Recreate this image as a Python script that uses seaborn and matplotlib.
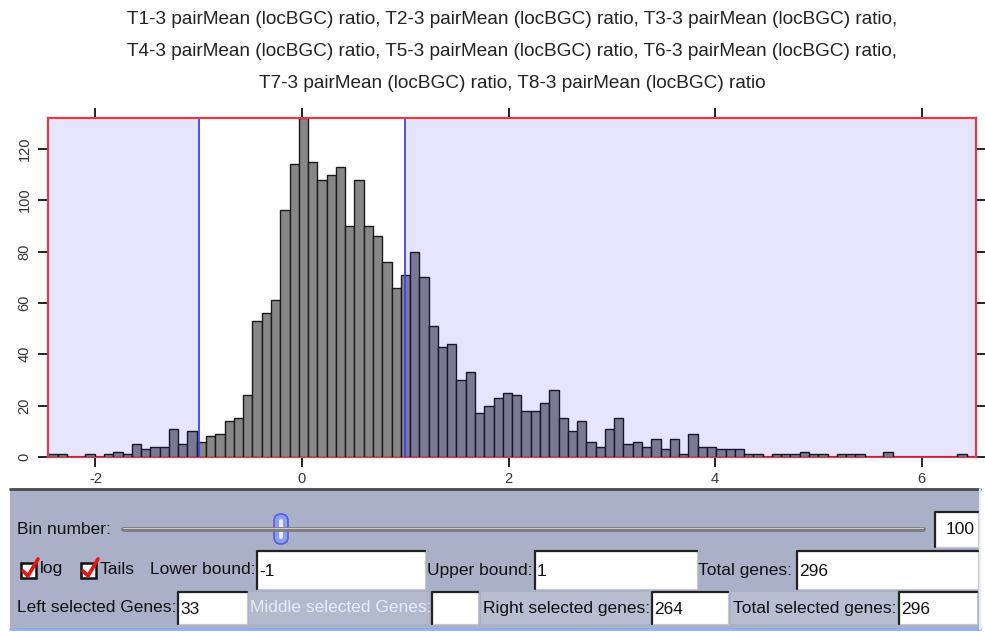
import numpy as np
import pandas as pd
import matplotlib
matplotlib.use("Agg")
import matplotlib.pyplot as plt
import matplotlib.patches as mpatches
import seaborn as sns

# ── data ──────────────────────────────────────────────────────────────────────
COUNTS = [
    1, 1, 0, 0, 1, 0, 1, 2, 1, 5,
    3, 4, 4, 11, 5, 10, 6, 8, 9, 14,
    15, 24, 53, 56, 61, 96, 114, 132, 115, 108,
    110, 113, 90, 108, 90, 86, 76, 66, 71, 80,
    70, 51, 43, 44, 30, 33, 17, 20, 23, 25,
    24, 18, 18, 21, 26, 15, 10, 14, 6, 4,
    11, 15, 5, 6, 4, 7, 3, 7, 1, 9,
    4, 4, 3, 3, 3, 1, 1, 0, 1, 1,
    1, 2, 1, 1, 0, 1, 1, 1, 0, 0,
    2, 0, 0, 0, 0, 0, 0, 0, 1, 0,
]
X_MIN, X_MAX = -2.456, 6.525
N_BINS = 100
LOWER_BOUND = -1
UPPER_BOUND = 1
X_TICKS = [-2, 0, 2, 4, 6]
Y_TICKS = [0, 20, 40, 60, 80, 100, 120]
TITLE_LINES = [
    "T1-3 pairMean (locBGC) ratio, T2-3 pairMean (locBGC) ratio, T3-3 pairMean (locBGC) ratio,",
    "T4-3 pairMean (locBGC) ratio, T5-3 pairMean (locBGC) ratio, T6-3 pairMean (locBGC) ratio,",
    "T7-3 pairMean (locBGC) ratio, T8-3 pairMean (locBGC) ratio",
]
BIN_NUMBER = "100"
LOWER_TEXT = "-1"
UPPER_TEXT = "1"
TOTAL_GENES = "296"
LEFT_SELECTED = "33"
MIDDLE_SELECTED = ""
RIGHT_SELECTED = "264"
TOTAL_SELECTED = "296"

# ── style ─────────────────────────────────────────────────────────────────────
W, H = 985, 632
BAR_GRAY = "#878787"
FRAME_RED = "#e33a44"
LINE_BLUE = "#4040ff"
PANEL_BG = "#a9b0c8"

sns.set_theme(style="white")
plt.rcParams["font.family"] = ["Liberation Sans", "DejaVu Sans"]
plt.rcParams["axes.unicode_minus"] = False

edges = np.linspace(X_MIN, X_MAX, N_BINS + 1)
df = pd.DataFrame({"ratio": (edges[:-1] + edges[1:]) / 2, "count": COUNTS})

fig = plt.figure(figsize=(W / 100, H / 100), dpi=100)
fig.patch.set_facecolor("white")

# control panel lives in pixel coordinates
pax = fig.add_axes([0, 0, 1, 1])
pax.set_xlim(0, W)
pax.set_ylim(H, 0)
pax.axis("off")

ax = fig.add_axes([48.3 / W, 1 - 457 / H, (976 - 48.3) / W, (457 - 118) / H])
ax.set_facecolor("white")

sns.histplot(data=df, x="ratio", weights="count", bins=N_BINS,
             binrange=(X_MIN, X_MAX), color=BAR_GRAY, edgecolor="#1a1a1a",
             linewidth=1.0, alpha=1, ax=ax, zorder=3)

# tails shaded
ax.axvspan(X_MIN, LOWER_BOUND, color="#0000ff", alpha=0.1, lw=0, zorder=4)
ax.axvspan(UPPER_BOUND, X_MAX, color="#0000ff", alpha=0.1, lw=0, zorder=4)
ax.axvline(LOWER_BOUND, color=LINE_BLUE, lw=1.3, zorder=5)
ax.axvline(UPPER_BOUND, color=LINE_BLUE, lw=1.3, zorder=5)

ax.set_xlim(X_MIN, X_MAX)
ax.set_ylim(0, max(COUNTS))
ax.set_xticks(X_TICKS)
ax.set_yticks(Y_TICKS)
ax.set_xlabel("")
ax.set_ylabel("")
ax.tick_params(direction="out", length=7, width=1.3, color="#111111",
               top=True, right=True, bottom=True, left=True,
               labeltop=False, labelright=False, labelsize=10.5,
               labelcolor="#333333")
ax.tick_params(axis="x", pad=4)
ax.tick_params(axis="y", pad=5)
plt.setp(ax.get_yticklabels(), rotation=90, va="center")
for side, sp in ax.spines.items():
    sp.set_color(FRAME_RED)
    sp.set_linewidth(1.6)
    if side != "bottom":
        sp.set_zorder(6)

# title centred over the plot area
for i, line in enumerate(TITLE_LINES):
    fig.text(512 / W, 1 - (20 + 31.5 * i) / H, line, ha="center", va="center",
             fontsize=13.7, color="#222222")

# ── control panel ─────────────────────────────────────────────────────────────
P_TOP, P_BOT = 489, 629
pax.add_patch(mpatches.Rectangle((10, P_TOP), 970, P_BOT - P_TOP,
                                 fc=PANEL_BG, ec="none"))
pax.plot([10, 980], [P_TOP, P_TOP], color="#4a4a4a", lw=2)
pax.plot([10, 980], [P_BOT, P_BOT], color="#8fb0f0", lw=2)
pax.plot([980, 980], [P_TOP, P_BOT], color="#e8ecf8", lw=1.5)

FS = 12.5


def field(x0, x1, y0, y1, text):
    pax.add_patch(mpatches.Rectangle((x0, y0), x1 - x0, y1 - y0,
                                     fc="white", ec="#c8c8c8", lw=0.8))
    pax.plot([x0, x0, x1], [y1, y0, y0], color="#222222", lw=1.6)
    pax.text(x0 + 2, (y0 + y1) / 2 + 1, text, ha="left", va="center",
             fontsize=FS, color="#111111")


def label(x, y, text, color="#111111"):
    pax.text(x, y, text, ha="left", va="center", fontsize=FS, color=color)


def checkbox(x0, y0, text):
    pax.add_patch(mpatches.Rectangle((x0, y0), 15, 15, fc="white",
                                     ec="#111111", lw=1.8))
    pax.plot([x0 + 2, x0 + 7, x0 + 17], [y0 + 8, y0 + 13, y0 - 4],
             color="#ee1111", lw=2.6, solid_capstyle="round")
    label(x0 + 19, y0 + 6, text)


# row 1: slider
R1, R2, R3 = 529, 570, 608
label(17, R1, "Bin number:")
pax.plot([123, 923], [R1, R1], color="#7d7d7d", lw=3.5, solid_capstyle="round")
pax.plot([123, 923], [R1 - 1.5, R1 - 1.5], color="#c8c8c8", lw=0.8)
pax.add_patch(mpatches.FancyBboxPatch((274, R1 - 15), 14, 30,
                                      boxstyle="round,pad=0,rounding_size=7",
                                      fc="#8d9cf4", ec="#5060d8", lw=1.2))
pax.add_patch(mpatches.FancyBboxPatch((279, R1 - 10), 4, 20,
                                      boxstyle="round,pad=0,rounding_size=2",
                                      fc="#e8ecff", ec="none"))
pax.add_patch(mpatches.Rectangle((935, 512), 43, 35, fc="white",
                                 ec="#c8c8c8", lw=0.8))
pax.plot([935, 935, 978], [547, 512, 512], color="#222222", lw=1.6)
pax.text(975, R1 + 1, BIN_NUMBER, ha="right", va="center", fontsize=FS,
         color="#111111")

# row 2: checkboxes and bounds
checkbox(21, 563, "log")
checkbox(81, 563, "Tails")
label(150, R2, "Lower bound:")
field(257, 425, 551, 589, LOWER_TEXT)
label(427, R2, "Upper bound:")
field(535, 697, 551, 589, UPPER_TEXT)
label(698, R2, "Total genes:")
field(797, 978, 551, 589, TOTAL_GENES)

# row 3: selection counts
label(17, R3, "Left selected Genes:")
field(178, 247, 592, 624, LEFT_SELECTED)
pax.add_patch(mpatches.Rectangle((249, 592), 180, 32, fc="#b4bace", ec="none"))
label(250, R3, "Middle selected Genes:", color="#e8ecf4")
field(432, 478, 592, 624, MIDDLE_SELECTED)
pax.add_patch(mpatches.Rectangle((481, 592), 170, 32, fc="#b8bed2", ec="none"))
label(483, R3, "Right selected genes:")
field(652, 728, 592, 624, RIGHT_SELECTED)
pax.add_patch(mpatches.Rectangle((731, 592), 167, 32, fc="#b8bed2", ec="none"))
label(733, R3, "Total selected genes:")
field(899, 977, 592, 624, TOTAL_SELECTED)

fig.savefig("out.png", dpi=100, facecolor="white")
